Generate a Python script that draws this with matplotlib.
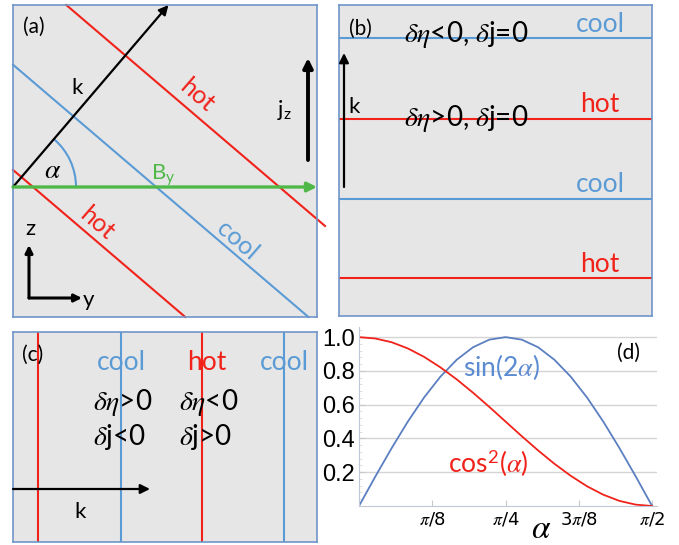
import numpy as np
import matplotlib
matplotlib.use('Agg')
import matplotlib.pyplot as plt
from matplotlib.patches import Arc

plt.rcParams['font.family'] = ['Lato', 'DejaVu Sans']
plt.rcParams['mathtext.fontset'] = 'stix'

RED = '#f0221a'
BLUE = '#5b9bd5'
GREEN = '#4fb848'
BG = '#e6e6e6'
EDGE = '#6f95c8'

## panel (a): stripes perpendicular to k, offsets measured along k (px)
a_k_angle = 49.5
a_origin = (0, 130)
a_stripe_offset = [13, 93, 173]
a_stripe_kind = ['hot', 'cool', 'hot']
a_stripe_label_pos = [(84, 94), (224, 77), (184, 222)]

## panel (b): horizontal stripes (height from bottom, px)
b_stripe_y = [278, 197, 117, 38]
b_stripe_kind = ['cool', 'hot', 'cool', 'hot']
b_texts = [r'$\delta\eta$<0, $\delta$j=0', r'$\delta\eta$>0, $\delta$j=0']
b_text_y = [281, 198]

## panel (c): vertical stripes (x from left, px); first one has no label
c_stripe_x = [25, 108, 189, 271]
c_stripe_kind = ['hot', 'cool', 'hot', 'cool']
c_stripe_labelled = [False, True, True, True]
c_texts = [[r'$\delta\eta$>0', r'$\delta$j<0'], [r'$\delta\eta$<0', r'$\delta$j>0']]

## panel (d): curves, alpha in degrees
alpha_deg = [0, 5, 10, 15, 20, 25, 30, 35, 40, 45, 50, 55, 60, 65, 70, 75, 80, 85, 90]
sin2a = [0, 0.174, 0.342, 0.5, 0.643, 0.766, 0.866, 0.94, 0.985, 1.0,
         0.985, 0.94, 0.866, 0.766, 0.643, 0.5, 0.342, 0.174, 0]
cos2a = [1.0, 0.992, 0.97, 0.933, 0.883, 0.821, 0.75, 0.671, 0.587, 0.5,
         0.413, 0.329, 0.25, 0.179, 0.117, 0.067, 0.03, 0.008, 0]
d_xticks = [22.5, 45, 67.5, 90]
d_xticklabels = [r'$\pi$/8', r'$\pi$/4', r'3$\pi$/8', r'$\pi$/2']
d_yticks = [0.2, 0.4, 0.6, 0.8, 1.0]

col = {'hot': RED, 'cool': BLUE}
W, H = 679, 545

fig = plt.figure(figsize=(W / 100, H / 100), dpi=100)


def panel(x0, y0, w, h):
    # x0, y0 = top-left corner in pixels
    ax = fig.add_axes([x0 / W, (H - y0 - h) / H, w / W, h / H])
    ax.set_xlim(0, w)
    ax.set_ylim(0, h)
    ax.set_xticks([])
    ax.set_yticks([])
    ax.set_facecolor(BG)
    for s in ax.spines.values():
        s.set_color(EDGE)
        s.set_linewidth(1.2)
    return ax


def arrow(ax, p0, p1, color='black', lw=1.6, ms=14):
    ax.annotate('', xy=p1, xytext=p0,
                arrowprops=dict(arrowstyle='-|>', color=color, lw=lw,
                                mutation_scale=ms, shrinkA=0, shrinkB=0),
                annotation_clip=False)


## (a)
aw, ah = 304, 312
ax = panel(13, 5, aw, ah)
th = np.deg2rad(a_k_angle)
kx, ky = np.cos(th), np.sin(th)
for off, kind in zip(a_stripe_offset, a_stripe_kind):
    px, py = a_origin[0] + off * kx, a_origin[1] + off * ky
    # line direction perpendicular to k
    dx, dy = ky, -kx
    ts = []
    for lim, p, d in [(0, px, dx), (aw + 8, px, dx), (0, py, dy), (ah, py, dy)]:
        ts.append((lim - p) / d)
    ok = []
    for t in ts:
        xx, yy = px + t * dx, py + t * dy
        if -0.01 <= xx <= aw + 8.01 and -0.01 <= yy <= ah + 0.01:
            ok.append(t)
    t0, t1 = min(ok), max(ok)
    ax.plot([px + t0 * dx, px + t1 * dx], [py + t0 * dy, py + t1 * dy],
            color=col[kind], lw=1.5, clip_on=False)
for (lx, ly), kind in zip(a_stripe_label_pos, a_stripe_kind):
    ax.text(lx, ly, kind, color=col[kind], fontsize=18, rotation=-41,
            ha='center', va='center', rotation_mode='anchor')

klen = (ah - a_origin[1]) / ky
arrow(ax, a_origin, (a_origin[0] + klen * kx, a_origin[1] + klen * ky))
ax.text(64, 229, 'k', fontsize=16, ha='center', va='center')
arrow(ax, a_origin, (aw, a_origin[1]), color=GREEN, lw=2.4, ms=14)
ax.text(150, 142, r'B$_\mathregular{y}$', color=GREEN, fontsize=16, ha='center', va='center')
ax.add_patch(Arc(a_origin, 126, 126, theta1=0, theta2=a_k_angle, color=BLUE, lw=1.5))
ax.text(40, 147, r'$\alpha$', fontsize=20, ha='center', va='center')
arrow(ax, (295, 157), (295, 259), lw=2.8, ms=14)
ax.text(272, 207, r'j$_\mathregular{z}$', fontsize=16, ha='center', va='center')
arrow(ax, (16, 19), (16, 72), lw=2.2, ms=11)
arrow(ax, (16, 19), (69, 19), lw=2.2, ms=11)
ax.text(17, 88, 'z', fontsize=16, ha='center', va='center')
ax.text(76, 17, 'y', fontsize=16, ha='center', va='center')
ax.text(10, 290, '(a)', fontsize=15, va='center', ha='left')

## (b)
bw, bh = 313, 311
ax = panel(339, 5, bw, bh)
for y, kind in zip(b_stripe_y, b_stripe_kind):
    ax.axhline(y, color=col[kind], lw=1.5)
    ax.text(261, y + 14, kind, color=col[kind], fontsize=19, ha='center', va='center')
for t, y in zip(b_texts, b_text_y):
    ax.text(127, y, t, fontsize=20, ha='center', va='center')
arrow(ax, (5, 129), (5, 263))
ax.text(9, 209, 'k', fontsize=16, ha='left', va='center')
ax.text(10, 287, '(b)', fontsize=15, va='center', ha='left')

## (c)
cw, ch = 304, 210
ax = panel(13, 332, cw, ch)
for x, kind, lab in zip(c_stripe_x, c_stripe_kind, c_stripe_labelled):
    ax.axvline(x, color=col[kind], lw=1.5)
    if lab:
        ax.text(x + (5 if kind == 'hot' else 0), 180, kind, color=col[kind],
                fontsize=19, ha='center', va='center')
for x, pair in zip([80, 166], c_texts):
    ax.text(x, 139, pair[0], fontsize=20, ha='left', va='center')
    ax.text(x, 105, pair[1], fontsize=20, ha='left', va='center')
arrow(ax, (0, 53), (137, 53))
ax.text(67, 30, 'k', fontsize=16, ha='center', va='center')
ax.text(9, 187, '(c)', fontsize=15, va='center', ha='left')

## (d)
ax = fig.add_axes([359 / W, (H - 506) / H, 298 / W, 179 / H])
ax.plot(alpha_deg, sin2a, color='#5b7fc1', lw=1.3)
ax.plot(alpha_deg, cos2a, color=RED, lw=1.3)
ax.set_xlim(0, 91.5)
ax.set_ylim(0, 1.06)
ax.set_xticks(d_xticks)
ax.set_xticklabels(d_xticklabels, fontsize=13, family='DejaVu Sans')
ax.set_yticks(d_yticks)
ax.set_yticklabels(['%.1f' % v for v in d_yticks], fontsize=17, family='Liberation Sans')
ax.set_yticks(np.arange(0, 1.06, 0.04), minor=True)
ax.tick_params(axis='both', direction='in', color='#c8c8c8', length=4, pad=3)
ax.tick_params(axis='y', which='minor', direction='in', color='#d8d8d8', length=2)
ax.grid(axis='y', color='#d4d4d4', lw=1)
for s in ['top', 'right']:
    ax.spines[s].set_visible(False)
for s in ['left', 'bottom']:
    ax.spines[s].set_color('#c0c8d8')
ax.text(56, -0.13, r'$\alpha$', fontsize=24, ha='center', va='center',
        transform=ax.get_xaxis_transform())
ax.text(43.9, 0.823, r'sin(2$\alpha$)', color='#5b8bd0', fontsize=19, ha='center', va='center')
ax.text(39.6, 0.255, r'cos$^\mathregular{2}$($\alpha$)', color=RED, fontsize=19, ha='center', va='center')
ax.text(82.6, 0.906, '(d)', fontsize=15, ha='center', va='center')

fig.savefig('out.png', dpi=100)
